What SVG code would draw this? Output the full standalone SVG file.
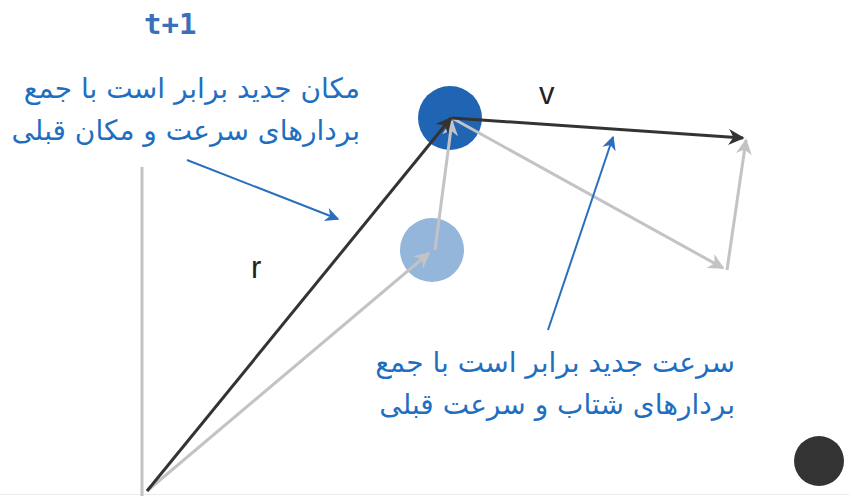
<svg xmlns="http://www.w3.org/2000/svg" width="849" height="496" viewBox="0 0 849 496">
<defs>
<style>
.fa{font-family:"DejaVu Sans",sans-serif;font-size:28px;fill:#1f6fc1;text-anchor:end}
.lbl{font-family:"Liberation Sans",sans-serif;font-size:31px;fill:#222}
.gray{stroke:#c3c3c6;stroke-width:3;fill:none}
.dark{stroke:#333;stroke-width:3;fill:none}
.blue{stroke:#2a6fbd;stroke-width:2;fill:none}
</style>
<marker id="ag" viewBox="0 0 10 10" refX="9" refY="5" markerWidth="18" markerHeight="16" markerUnits="userSpaceOnUse" orient="auto"><path d="M0,0 L10,5 L0,10 L3,5 z" fill="#c3c3c6"/></marker>
<marker id="ad" viewBox="0 0 10 10" refX="9" refY="5" markerWidth="18" markerHeight="16" markerUnits="userSpaceOnUse" orient="auto"><path d="M0,0 L10,5 L0,10 L3,5 z" fill="#333"/></marker>
<marker id="ab" viewBox="0 0 10 10" refX="9" refY="5" markerWidth="18" markerHeight="14" markerUnits="userSpaceOnUse" orient="auto"><path d="M0,0 L10,5 L0,10 L3,5 z" fill="#2a6fbd"/></marker>
</defs>
<rect width="849" height="496" fill="#fff"/>
<line x1="0" y1="494.5" x2="849" y2="494.5" stroke="#ebebeb" stroke-width="1"/>
<g id="circle-prev"><circle cx="432" cy="250" r="32" fill="#94b6da"/></g>
<g id="circle-new"><circle cx="450" cy="118" r="32" fill="#2065b3"/></g>
<g id="dot"><circle cx="819" cy="461" r="25" fill="#333"/></g>
<g id="connectors">
<line class="gray" x1="142" y1="167" x2="142" y2="496"/>
<line class="gray" x1="147" y1="491" x2="429" y2="253" marker-end="url(#ag)"/>
<line class="gray" x1="435" y1="250" x2="452" y2="121" marker-end="url(#ag)"/>
<line class="gray" x1="452" y1="118" x2="723" y2="268" marker-end="url(#ag)"/>
<line class="gray" x1="727" y1="270" x2="746" y2="140" marker-end="url(#ag)"/>
<line class="dark" x1="147" y1="491" x2="451" y2="118" marker-end="url(#ad)"/>
<line class="dark" x1="452" y1="118" x2="743" y2="138" marker-end="url(#ad)"/>
<line class="blue" x1="187" y1="160" x2="338" y2="219" marker-end="url(#ab)"/>
<line class="blue" x1="548" y1="330" x2="613" y2="137" marker-end="url(#ab)"/>
</g>
<g id="labels">
<text x="144" y="34" style="font-family:'DejaVu Sans Mono',monospace;font-size:29px;font-weight:bold;fill:#3a70b8">t+1</text>
<text class="lbl" x="539" y="104">v</text>
<text class="lbl" x="251" y="278">r</text>
<text class="fa" x="360" y="98">مکان جدید برابر است با جمع</text>
<text class="fa" x="360" y="140">بردارهای سرعت و مکان قبلی</text>
<text class="fa" x="735" y="372">سرعت جدید برابر است با جمع</text>
<text class="fa" x="735" y="414">بردارهای شتاب و سرعت قبلی</text>
</g>
</svg>
